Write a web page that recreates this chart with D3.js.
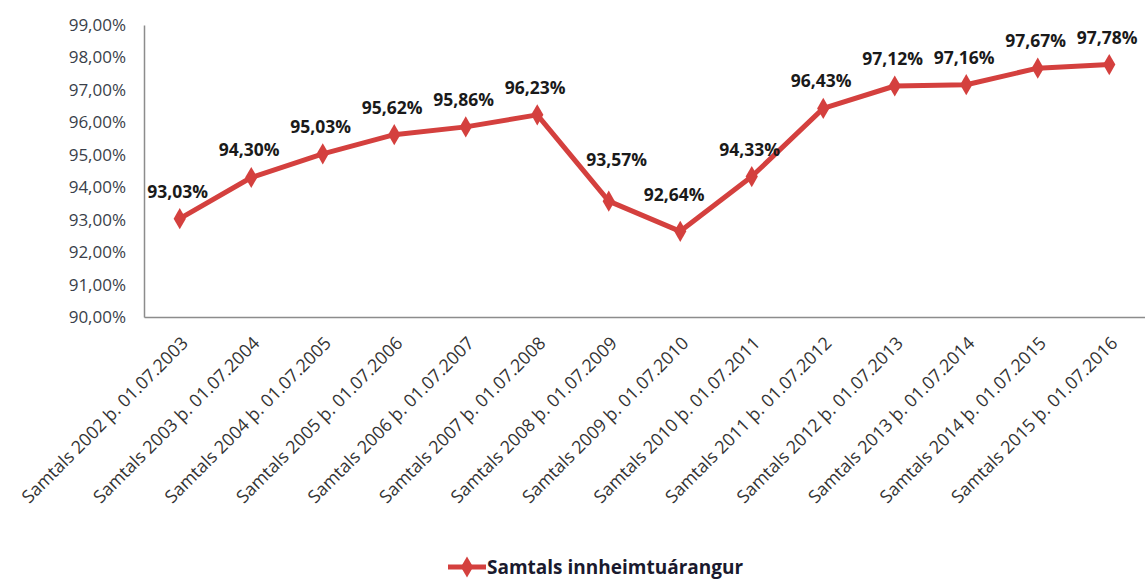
<!DOCTYPE html>
<html>
<head>
<meta charset="utf-8">
<script src="https://cdn.jsdelivr.net/npm/d3@7"></script>
<style>
  body { margin: 0; background: #fff; }
  text { font-family: "Open Sans", sans-serif; }
</style>
</head>
<body>
<div id="chart"></div>
<script>
// periods on the x axis
var periods = [
	"Samtals 2002 þ. 01.07.2003",
	"Samtals 2003 þ. 01.07.2004",
	"Samtals 2004 þ. 01.07.2005",
	"Samtals 2005 þ. 01.07.2006",
	"Samtals 2006 þ. 01.07.2007",
	"Samtals 2007 þ. 01.07.2008",
	"Samtals 2008 þ. 01.07.2009",
	"Samtals 2009 þ. 01.07.2010",
	"Samtals 2010 þ. 01.07.2011",
	"Samtals 2011 þ. 01.07.2012",
	"Samtals 2012 þ. 01.07.2013",
	"Samtals 2013 þ. 01.07.2014",
	"Samtals 2014 þ. 01.07.2015",
	"Samtals 2015 þ. 01.07.2016"
];

// collection rate, percent
var rates = [93.03, 94.30, 95.03, 95.62, 95.86, 96.23, 93.57, 92.64, 94.33, 96.43, 97.12, 97.16, 97.67, 97.78];

var yTicks = [90, 91, 92, 93, 94, 95, 96, 97, 98, 99];
var seriesName = "Samtals innheimtuárangur";

// a couple of labels were nudged by hand in the original
var labelNudge = {6: [8, -14], 7: [-6, -9]};

var width = 1145, height = 579;
var margin = {top: 25, right: 0, bottom: 262, left: 144};
var lineColor = "#d4403e";

var svg = d3.select("#chart")
	.append("svg")
	.attr("width", width)
	.attr("height", height);

var x = d3.scaleBand()
	.domain(periods)
	.range([margin.left, width - margin.right]);

var y = d3.scaleLinear()
	.domain([90, 99])
	.range([height - margin.bottom, margin.top]);

var fmt = function (v) { return v.toFixed(2).replace(".", ",") + "%"; };

// y axis
var yAxis = svg.append("g")
	.attr("transform", "translate(" + margin.left + ",0)")
	.call(d3.axisLeft(y).tickValues(yTicks).tickSize(0).tickPadding(18).tickFormat(fmt));
yAxis.select(".domain").attr("stroke", "#8c8c8c").attr("stroke-width", 1.5);
yAxis.selectAll("text")
	.style("font-size", "17px")
	.attr("fill", "#3a3f4a");

// x axis
var xAxis = svg.append("g")
	.attr("transform", "translate(0," + y(90) + ")")
	.call(d3.axisBottom(x).tickSize(0).tickPadding(0));
xAxis.select(".domain").attr("stroke", "#8c8c8c").attr("stroke-width", 1.5);
xAxis.selectAll("text")
	.style("font-size", "17.8px")
	.attr("fill", "#333")
	.attr("text-anchor", "end")
	.attr("dy", "0.35em")
	.attr("transform", "translate(5,23) rotate(-45)");

// line
var cx = function (d, i) { return x(periods[i]) + x.bandwidth() / 2; };

var line = d3.line()
	.x(cx)
	.y(function (d) { return y(d); });

svg.append("path")
	.datum(rates)
	.attr("fill", "none")
	.attr("stroke", lineColor)
	.attr("stroke-width", 5)
	.attr("stroke-linejoin", "round")
	.attr("d", line);

var diamond = d3.symbol().type(d3.symbolDiamond).size(130);

svg.selectAll(".marker")
	.data(rates)
	.enter()
	.append("path")
	.attr("class", "marker")
	.attr("d", diamond)
	.attr("fill", lineColor)
	.attr("transform", function (d, i) {
		return "translate(" + cx(d, i) + "," + y(d) + ")";
	});

// value labels
svg.selectAll(".vlabel")
	.data(rates)
	.enter()
	.append("text")
	.attr("class", "vlabel")
	.attr("x", function (d, i) { return cx(d, i) + (labelNudge[i] ? labelNudge[i][0] : -2); })
	.attr("y", function (d, i) { return y(d) - 21 + (labelNudge[i] ? labelNudge[i][1] : 0); })
	.attr("text-anchor", "middle")
	.style("font-size", "17.5px")
	.style("font-weight", "bold")
	.attr("fill", "#1a1a1a")
	.text(fmt);

// legend
var lg = svg.append("g").attr("transform", "translate(448,567)");
lg.append("line")
	.attr("x1", 0).attr("x2", 38)
	.attr("stroke", lineColor)
	.attr("stroke-width", 5);
lg.append("path")
	.attr("d", diamond)
	.attr("fill", lineColor)
	.attr("transform", "translate(19,0)");
lg.append("text")
	.attr("x", 39)
	.attr("dy", "0.35em")
	.style("font-size", "19px")
	.style("font-weight", "bold")
	.attr("fill", "#1a1a2e")
	.text(seriesName);
</script>
</body>
</html>
